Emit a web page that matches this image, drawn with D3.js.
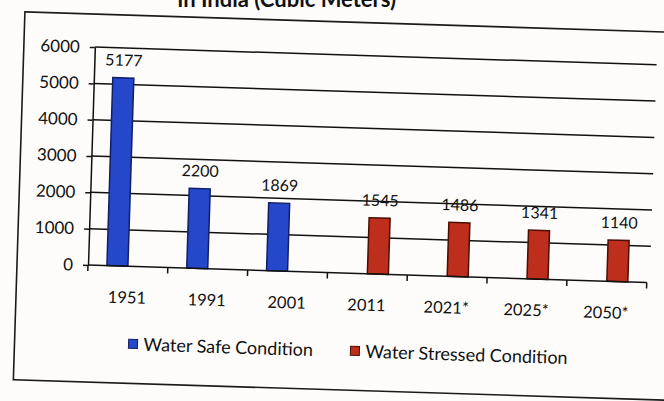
<!DOCTYPE html>
<html>
<head>
<meta charset="utf-8">
<script src="https://cdn.jsdelivr.net/npm/d3@7"></script>
<style>
  body { margin: 0; background: #fdfcfb; }
  svg { display: block; font-family: Lato, "Open Sans", sans-serif; }
</style>
</head>
<body>
<svg id="chart" width="664" height="401"></svg>
<script>
const categories = ["1951", "1991", "2001", "2011", "2021*", "2025*", "2050*"];
const seriesNames = ["Water Safe Condition", "Water Stressed Condition"];
const safeValues = [5177, 2200, 1869, null, null, null, null];
const stressedValues = [null, null, null, 1545, 1486, 1341, 1140];
const yTicks = [0, 1000, 2000, 3000, 4000, 5000, 6000];
const titleLine = "in India (Cubic Meters)";

const fills = ["#2547c9", "#bd2f1c"];
const edges = ["#121f66", "#4a0e06"];

const svg = d3.select("#chart");

// title line, only its lower half is inside the photo
svg.append("text")
  .attr("x", 396)
  .attr("y", 7)
  .attr("text-anchor", "end")
  .style("font-size", "22px")
  .style("font-weight", 700)
  .style("fill", "#111")
  .text(titleLine);

// the printed page is tilted a bit in the photo
const g = svg.append("g").attr("transform", "rotate(1.8 88 265)");

g.append("rect")
  .attr("x", 17).attr("y", 14)
  .attr("width", 720).attr("height", 368)
  .attr("fill", "none")
  .attr("stroke", "#1a1a1a")
  .attr("stroke-width", 1.6);

const x = d3.scaleBand().domain(categories).range([88, 647]);
const x1 = d3.scaleBand().domain(seriesNames).range([0, x.bandwidth()]).paddingOuter(0.9);
const y = d3.scaleLinear().domain([0, 6000]).range([265, 47]);

// gridlines
g.selectAll(".grid")
  .data(yTicks.filter(d => d > 0))
  .enter()
  .append("line")
  .attr("x1", 88).attr("x2", 650)
  .attr("y1", d => y(d)).attr("y2", d => y(d))
  .attr("stroke", "#111")
  .attr("stroke-width", 1.5);

const rows = categories.map((c, i) => ({
  cat: c,
  values: [safeValues[i], stressedValues[i]]
}));

const bars = [];
rows.forEach(r => {
  r.values.forEach((v, s) => {
    if (v !== null) bars.push({ cat: r.cat, s: s, value: v });
  });
});

g.selectAll(".bar")
  .data(bars)
  .enter()
  .append("rect")
  .attr("x", d => x(d.cat) + x1(seriesNames[d.s]))
  .attr("width", x1.bandwidth())
  .attr("y", d => y(d.value))
  .attr("height", d => y(0) - y(d.value))
  .attr("fill", d => fills[d.s])
  .attr("stroke", d => edges[d.s])
  .attr("stroke-width", 1.5);

g.selectAll(".lbl")
  .data(bars)
  .enter()
  .append("text")
  .attr("x", d => x(d.cat) + x1(seriesNames[d.s]) + x1.bandwidth() / 2)
  .attr("y", d => y(d.value) - 12)
  .attr("text-anchor", "middle")
  .style("font-size", "16px")
  .style("fill", "#111")
  .text(d => d.value);

// y axis
const yAxis = g.append("g")
  .attr("transform", "translate(88,0)")
  .call(d3.axisLeft(y).tickValues(yTicks).tickFormat(d3.format("d"))
    .tickSize(5).tickSizeOuter(0).tickPadding(10));
yAxis.select(".domain").attr("stroke", "#111").attr("stroke-width", 1.5);
yAxis.selectAll(".tick line").attr("stroke", "#111").attr("stroke-width", 1.5);
yAxis.selectAll(".tick text")
  .style("font-size", "17px")
  .style("font-family", "Lato, sans-serif")
  .attr("fill", "#111");

// x axis with ticks between categories
const xAxis = g.append("g");
xAxis.append("line")
  .attr("x1", 88).attr("x2", 647)
  .attr("y1", y(0)).attr("y2", y(0))
  .attr("stroke", "#111").attr("stroke-width", 1.5);
xAxis.selectAll(".xt")
  .data(categories.concat(["end"]))
  .enter()
  .append("line")
  .attr("x1", (d, i) => i < categories.length ? x(d) : x.range()[1])
  .attr("x2", (d, i) => i < categories.length ? x(d) : x.range()[1])
  .attr("y1", y(0)).attr("y2", y(0) + 6)
  .attr("stroke", "#111").attr("stroke-width", 1.5);
xAxis.selectAll(".xl")
  .data(categories)
  .enter()
  .append("text")
  .attr("x", d => x(d) + x.bandwidth() / 2)
  .attr("y", 302)
  .attr("text-anchor", "middle")
  .style("font-size", "16.5px")
  .style("fill", "#111")
  .text(d => d);

// legend
const legendX = [131, 353];
const legend = g.selectAll(".leg")
  .data(seriesNames)
  .enter()
  .append("g")
  .attr("transform", (d, i) => `translate(${legendX[i]},343)`);
legend.append("rect")
  .attr("x", 0).attr("y", -5)
  .attr("width", 9).attr("height", 9)
  .attr("fill", (d, i) => fills[i])
  .attr("stroke", (d, i) => edges[i]);
legend.append("text")
  .attr("x", 15).attr("y", 6)
  .style("font-size", "18px")
  .style("fill", "#111")
  .text(d => d);
</script>
</body>
</html>
